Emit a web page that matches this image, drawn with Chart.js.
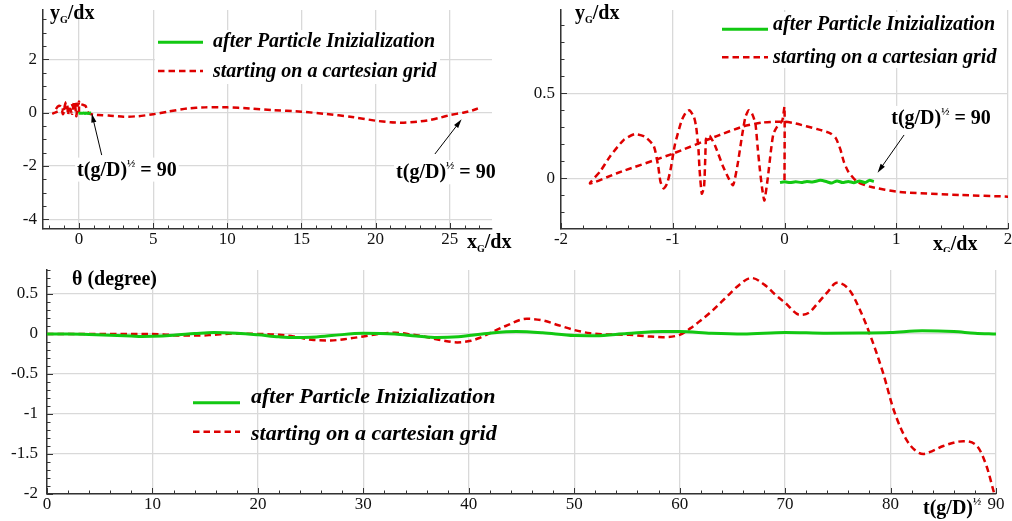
<!DOCTYPE html>
<html>
<head>
<meta charset="utf-8">
<script src="https://cdn.jsdelivr.net/npm/chart.js@4.4.1/dist/chart.umd.min.js"></script>
<style>
  html, body { margin: 0; padding: 0; background: #fff; overflow: hidden; }
  #page { position: relative; width: 1012px; height: 521px; }
  .panel { position: absolute; }
  .panel canvas { display: block; }
</style>
</head>
<body>
<div id="page">
  <div class="panel" style="left:0;top:0;width:512px;height:252px"><canvas id="trajFull" width="512" height="252"></canvas></div>
  <div class="panel" style="left:511px;top:0;width:501px;height:252px"><canvas id="trajZoom" width="501" height="252"></canvas></div>
  <div class="panel" style="left:0;top:252px;width:1012px;height:269px"><canvas id="angle" width="1012" height="269"></canvas></div>
</div>
<script>
// ---- series: particle centre path, starting on a cartesian grid (x_G/dx, y_G/dx) ----
const cartX = [0.00, 0.00, -0.02, -0.07, -0.10, -0.12, -0.15, -0.18, -0.20, -0.22, -0.24, -0.26, -0.29, -0.32,
  -0.35, -0.38, -0.42, -0.46, -0.50, -0.55, -0.62, -0.67, -0.70, -0.71, -0.72, -0.74, -0.76, -0.77, -0.79, -0.81,
  -0.85, -0.88, -0.92, -0.98, -1.02, -1.05, -1.08, -1.11, -1.13, -1.17, -1.25, -1.34, -1.44, -1.56, -1.65, -1.74,
  -1.5, -1.0, -0.6, -0.37, -0.2, 0.0, 0.1, 0.29, 0.41, 0.46, 0.5, 0.53, 0.57, 0.65, 0.77, 1.03, 1.57, 2.0,
  3.0, 4.0, 5.0, 6.0, 7.3, 8.5, 10.0, 11.5, 13.0, 15.0, 16.7, 18.3, 20.0, 21.0, 21.9, 22.8, 23.7, 24.4, 25.0,
  25.9, 26.5, 26.9];
const cartY = [-0.01, 0.42, 0.34, 0.30, 0.26, 0.17, 0.0, -0.13, -0.06, 0.05, 0.18, 0.32, 0.38, 0.40,
  0.36, 0.25, 0.08, -0.04, 0.00, 0.07, 0.19, 0.25, 0.24, 0.10, -0.05, -0.09, 0.05, 0.17, 0.30, 0.36,
  0.40, 0.39, 0.34, 0.20, 0.05, -0.03, -0.06, -0.02, 0.07, 0.19, 0.245, 0.26, 0.225, 0.13, 0.04, -0.03,
  0.03, 0.145, 0.25, 0.305, 0.328, 0.333, 0.322, 0.29, 0.265, 0.235, 0.17, 0.10, 0.04, -0.02, -0.05, -0.08, -0.098, -0.108,
  -0.15, -0.13, -0.06, 0.04, 0.16, 0.2, 0.2, 0.16, 0.1, 0.04, -0.05, -0.15, -0.3, -0.36, -0.375, -0.34, -0.27, -0.18, -0.09,
  0.0, 0.08, 0.16];

// ---- series: particle centre path after particle initialization ----
const initX = [-0.04, 0.0, 0.05, 0.1, 0.15, 0.2, 0.25, 0.32, 0.38, 0.42, 0.47, 0.52, 0.57, 0.62, 0.67, 0.72, 0.76, 0.8];
const initY = [-0.025, -0.02, -0.025, -0.02, -0.025, -0.018, -0.022, -0.012, -0.02, -0.028, -0.015, -0.025, -0.018,
  -0.026, -0.015, -0.025, -0.012, -0.018];

// ---- series: rotation angle theta (degree) against t(g/D)^1/2 ----
const timeInit = [0, 2, 4, 6, 8, 9, 10, 12, 14, 15.8, 18, 20, 22, 23.5, 25, 27, 30, 33, 35, 37, 39, 40, 42, 44.5, 47,
  50, 52, 55, 58.4, 60, 63, 66, 70, 74, 77, 80, 83, 86, 88, 90];
const thetaInit = [0, 0, -0.005, -0.015, -0.025, -0.03, -0.028, -0.015, 0.005, 0.02, 0.01, -0.01, -0.035, -0.045, -0.04,
  -0.02, 0.01, 0.0, -0.025, -0.045, -0.035, -0.02, 0.01, 0.03, 0.015, -0.02, -0.022, 0.005, 0.03, 0.03, 0.01, 0.0, 0.02,
  0.01, 0.012, 0.02, 0.04, 0.03, 0.01, 0.0];
const timeCart = [0, 4, 8, 11, 12.8, 14.5, 15.8, 17.7, 20.2, 22, 23.4, 25.3, 26.9, 28.5, 30, 31.5, 33, 34.5, 35.7, 37.5,
  38.9, 40.2, 41, 42, 43.5, 45.5, 47, 48.5, 50, 51.5, 53, 55.2, 57, 58.4, 60, 61, 61.9, 63, 64.5, 65.7, 66.8, 68.2, 69,
  70, 71.4, 72.3, 73, 74, 74.9, 76.1, 77.1, 78, 79.3, 80.3, 81.5, 82.3, 83.1, 84, 85, 86.9, 88.2, 89.1, 89.8];
const thetaCart = [0, 0, 0, -0.005, -0.02, -0.02, -0.01, 0.005, 0.0, -0.01, -0.03, -0.075, -0.08, -0.06, -0.03, 0.0,
  0.015, -0.005, -0.03, -0.08, -0.105, -0.085, -0.05, 0.01, 0.1, 0.19, 0.17, 0.11, 0.05, 0.01, -0.005, -0.01, -0.03,
  -0.04, -0.01, 0.07, 0.16, 0.28, 0.47, 0.62, 0.70, 0.6, 0.5, 0.39, 0.24, 0.27, 0.37, 0.52, 0.64, 0.55, 0.3, 0.01,
  -0.49, -0.95, -1.32, -1.45, -1.5, -1.46, -1.4, -1.34, -1.4, -1.65, -1.98];

// ---- tick values ----
const trajXTicks = [0, 5, 10, 15, 20, 25];
const trajYTicks = [-4, -2, 0, 2];
const zoomXTicks = [-2, -1, 0, 1, 2];
const zoomYTicks = [0, 0.5];
const timeTicks = [0, 10, 20, 30, 40, 50, 60, 70, 80, 90];
const thetaTicks = [-2, -1.5, -1, -0.5, 0, 0.5];

// ---- labels ----
const LABEL_INIT = 'after Particle Inizialization';
const LABEL_CART = 'starting on a cartesian grid';

// ---- styling ----
const SERIF = '"Liberation Serif", "Times New Roman", serif';
const RED = 'rgb(222,0,0)';
const GREEN = 'rgb(18,200,18)';
const GRID = '#d9d9d9';
const AXIS = '#333';
const DASH = [6.5, 4];

const pts = (xs, ys) => xs.map((x, i) => ({ x, y: ys[i] }));

// rich text: list of {t, f, dy}
function drawRich(ctx, x, y, parts) {
  let cx = x;
  parts.forEach(p => {
    ctx.font = p.f;
    ctx.fillText(p.t, cx, y + (p.dy || 0));
    cx += ctx.measureText(p.t).width;
  });
  return cx - x;
}
function richWidth(ctx, parts) {
  let w = 0;
  parts.forEach(p => { ctx.font = p.f; w += ctx.measureText(p.t).width; });
  return w;
}

const B20 = 'bold 20px ' + SERIF;
const B10 = 'bold 10px ' + SERIF;
const B11 = 'bold 11px ' + SERIF;
const yTitle = [{ t: 'y', f: B20 }, { t: 'G', f: B10, dy: 4 }, { t: '/dx', f: B20 }];
const xTitle = [{ t: 'x', f: B20 }, { t: 'G', f: B10, dy: 4 }, { t: '/dx', f: B20 }];
const timeNote = [{ t: 't(g/D)', f: B20 }, { t: '\u00BD', f: B11, dy: -9 }, { t: ' = 90', f: B20 }];
const timeTitle = [{ t: 't(g/D)', f: B20 }, { t: '\u00BD', f: B11, dy: -9 }];
const thetaTitle = [{ t: '\u03B8 (degree)', f: B20 }];

// axis ticks on the inner side, legend, arrows and titles
const decor = {
  id: 'decor',
  beforeDatasetsDraw(chart, args, o) {
    const ctx = chart.ctx, a = chart.chartArea, xs = chart.scales.x, ys = chart.scales.y;
    ctx.save();
    ctx.fillStyle = '#fff';
    (o.boxes || []).forEach(b => ctx.fillRect(b[0], b[1], b[2] - b[0], b[3] - b[1]));
    (o.notes || []).forEach(n => {
      const tx = xs.getPixelForValue(n.text[0]), ty = ys.getPixelForValue(n.text[1]);
      const w = richWidth(ctx, timeNote);
      ctx.fillStyle = '#fff';
      ctx.fillRect(tx - 2, ty - 18, w + 4, 24);
    });
    ctx.strokeStyle = AXIS;
    ctx.lineWidth = 1;
    const mark = (scale, step, majors, horiz) => {
      const i0 = Math.ceil(scale.min / step - 1e-6), i1 = Math.floor(scale.max / step + 1e-6);
      for (let i = i0; i <= i1; i++) {
        const v = i * step;
        const major = majors.some(m => Math.abs(m - v) < 1e-6);
        const len = major ? 6 : 3.5;
        const p = Math.round(scale.getPixelForValue(v)) + 0.5;
        ctx.beginPath();
        if (horiz) { ctx.moveTo(p, a.bottom); ctx.lineTo(p, a.bottom - len); }
        else { ctx.moveTo(a.left, p); ctx.lineTo(a.left + len, p); }
        ctx.stroke();
      }
    };
    mark(xs, o.minor[0], o.majorX, true);
    mark(ys, o.minor[1], o.majorY, false);
    ctx.restore();
  },
  afterDatasetsDraw(chart, args, o) {
    const ctx = chart.ctx, xs = chart.scales.x, ys = chart.scales.y;
    ctx.save();
    // legend
    const L = o.legend;
    ctx.textBaseline = 'alphabetic';
    ctx.textAlign = 'left';
    L.rows.forEach(r => {
      ctx.beginPath();
      ctx.strokeStyle = r.color;
      ctx.lineWidth = r.width;
      ctx.setLineDash(r.dash || []);
      ctx.moveTo(L.x0, r.lineY);
      ctx.lineTo(L.x1, r.lineY);
      ctx.stroke();
      ctx.setLineDash([]);
      ctx.fillStyle = '#000';
      ctx.font = L.font;
      ctx.fillText(r.text, L.textX, r.base);
    });
    // time annotations with arrows
    (o.notes || []).forEach(n => {
      const hx = xs.getPixelForValue(n.head[0]), hy = ys.getPixelForValue(n.head[1]);
      const tx = xs.getPixelForValue(n.tail[0]), ty = ys.getPixelForValue(n.tail[1]);
      ctx.strokeStyle = '#000';
      ctx.fillStyle = '#000';
      ctx.lineWidth = 1;
      const ang = Math.atan2(hy - ty, hx - tx);
      ctx.beginPath();
      ctx.moveTo(tx, ty);
      ctx.lineTo(hx - 6 * Math.cos(ang), hy - 6 * Math.sin(ang));
      ctx.stroke();
      ctx.beginPath();
      ctx.moveTo(hx, hy);
      ctx.lineTo(hx - 9 * Math.cos(ang) + 2.6 * Math.sin(ang), hy - 9 * Math.sin(ang) - 2.6 * Math.cos(ang));
      ctx.lineTo(hx - 9 * Math.cos(ang) - 2.6 * Math.sin(ang), hy - 9 * Math.sin(ang) + 2.6 * Math.cos(ang));
      ctx.closePath();
      ctx.fill();
      drawRich(ctx, xs.getPixelForValue(n.text[0]), ys.getPixelForValue(n.text[1]), timeNote);
    });
    ctx.restore();
  },
  afterDraw(chart, args, o) {
    const ctx = chart.ctx;
    ctx.save();
    ctx.fillStyle = '#000';
    ctx.textBaseline = 'alphabetic';
    ctx.textAlign = 'left';
    (o.titles || []).forEach(t => drawRich(ctx, t.x, t.y, t.parts));
    ctx.restore();
  }
};
Chart.register(decor);

function axis(min, max, ticks, fixed, pad, horiz) {
  return {
    type: 'linear', min, max,
    afterBuildTicks: s => { s.ticks = ticks.map(v => ({ value: v })); },
    afterFit: s => {
      if (horiz) s.height = fixed; else s.width = fixed;
      s.paddingLeft = 0; s.paddingRight = 0; s.paddingTop = 0; s.paddingBottom = 0;
    },
    ticks: {
      font: { family: SERIF, size: 17 }, color: '#111', padding: pad,
      autoSkip: false, maxRotation: 0, minRotation: 0,
      callback: v => String(v)
    },
    grid: { color: GRID, lineWidth: 1.3, drawTicks: false },
    border: { color: AXIS, width: 1.5 }
  };
}

function options(p) {
  return {
    responsive: false,
    animation: false,
    devicePixelRatio: 1,
    events: [],
    layout: { padding: p.padding },
    scales: {
      x: axis(p.x[0], p.x[1], p.x[2], p.xSize, p.xPad, true),
      y: axis(p.y[0], p.y[1], p.y[2], p.ySize, p.yPad, false)
    },
    plugins: { legend: { display: false }, tooltip: { enabled: false }, decor: p.decor }
  };
}

const lineSet = (data, color, width, dash, extra) => Object.assign({
  data, borderColor: color, borderWidth: width, borderDash: dash || [], showLine: true,
  pointRadius: 0, fill: false
}, extra || {});

function trajSets() {
  return [
    lineSet(pts(initX, initY), GREEN, 3, null, { tension: 0.2 }),
    lineSet(pts(cartX, cartY), RED, 2.5, DASH, { tension: 0.2 })
  ];
}

// full path of the particle centre
new Chart(document.getElementById('trajFull'), {
  type: 'scatter',
  data: { datasets: trajSets() },
  options: options({
    padding: { left: 0, top: 10, right: 20, bottom: 0 },
    x: [-2.428, 27.85, trajXTicks], y: [-4.364, 3.854, trajYTicks],
    xSize: 23, ySize: 43, xPad: 0, yPad: 6,
    decor: {
      minor: [1, 0.5], majorX: trajXTicks, majorY: trajYTicks,
      boxes: [[155, 30, 440, 84]],
      legend: {
        x0: 158, x1: 203, textX: 213, font: 'bold italic 20px ' + SERIF,
        rows: [
          { text: LABEL_INIT, color: GREEN, width: 3, lineY: 42.3, base: 46.5 },
          { text: LABEL_CART, color: RED, width: 2.5, dash: DASH, lineY: 71, base: 76.5 }
        ]
      },
      notes: [
        { text: [-0.13, -2.36], tail: [1.53, -1.59], head: [0.86, -0.03] },
        { text: [21.38, -2.46], tail: [24.0, -1.55], head: [25.8, -0.25] }
      ],
      titles: [
        { x: 50, y: 19, parts: yTitle },
        { x: 467, y: 248, parts: xTitle }
      ]
    }
  })
});

// close-up around the release position
new Chart(document.getElementById('trajZoom'), {
  type: 'scatter',
  data: { datasets: trajSets() },
  options: options({
    padding: { left: 0, top: 10, right: 4, bottom: 0 },
    x: [-2, 2, zoomXTicks], y: [-0.298, 0.99, zoomYTicks],
    xSize: 23, ySize: 50, xPad: 0, yPad: 6,
    decor: {
      minor: [0.2, 0.1], majorX: zoomXTicks, majorY: zoomYTicks,
      boxes: [[207, 12, 488, 68]],
      legend: {
        x0: 211, x1: 257, textX: 262, font: 'bold italic 20px ' + SERIF,
        rows: [
          { text: LABEL_INIT, color: GREEN, width: 3, lineY: 29.3, base: 29.5 },
          { text: LABEL_CART, color: RED, width: 2.5, dash: DASH, lineY: 57.3, base: 63.3 }
        ]
      },
      notes: [
        { text: [0.955, 0.32], tail: [1.07, 0.255], head: [0.833, 0.033] }
      ],
      titles: [
        { x: 64, y: 19, parts: yTitle },
        { x: 422, y: 250, parts: xTitle }
      ]
    }
  })
});

// rotation angle over time
new Chart(document.getElementById('angle'), {
  type: 'scatter',
  data: {
    datasets: [
      lineSet(pts(timeInit, thetaInit), GREEN, 3, null, { cubicInterpolationMode: 'monotone' }),
      lineSet(pts(timeCart, thetaCart), RED, 2.5, DASH, { cubicInterpolationMode: 'monotone' })
    ]
  },
  options: options({
    padding: { left: 0, top: 18, right: 16, bottom: 0 },
    x: [0, 90, timeTicks], y: [-2, 0.8, thetaTicks],
    xSize: 27, ySize: 47, xPad: 0, yPad: 9,
    decor: {
      minor: [2, 0.1], majorX: timeTicks, majorY: thetaTicks,
      legend: {
        x0: 193, x1: 240, textX: 251, font: 'bold italic 22px ' + SERIF,
        rows: [
          { text: LABEL_INIT, color: GREEN, width: 3, lineY: 150.7, base: 151 },
          { text: LABEL_CART, color: RED, width: 2.5, dash: DASH, lineY: 179.7, base: 187.5 }
        ]
      },
      titles: [
        { x: 72, y: 33, parts: thetaTitle },
        { x: 923, y: 262, parts: timeTitle }
      ]
    }
  })
});
</script>
</body>
</html>
